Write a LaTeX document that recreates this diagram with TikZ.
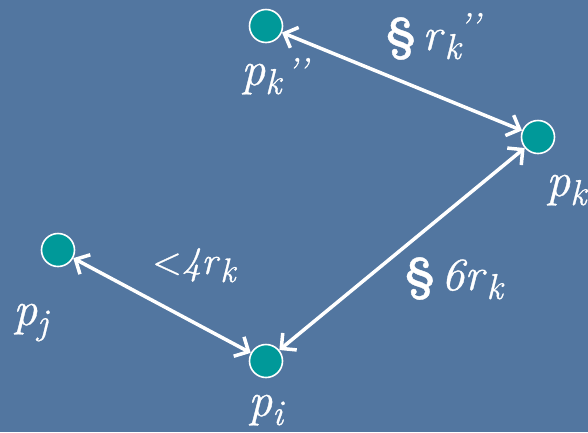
\documentclass[tikz,border=0pt]{standalone}
\usepackage{fontspec}
\setmainfont{Latin Modern Roman}[FakeBold=0.8]
\usetikzlibrary{arrows.meta}
\definecolor{slideblue}{RGB}{82,118,160}
\definecolor{dotteal}{RGB}{0,153,153}
\newcommand\psize{\fontsize{48}{52}\selectfont}
\newcommand\ssize{\fontsize{36}{40}\selectfont}
% italic p with a lowered italic index
\newcommand\plbl[1]{\psize\textit{p}\raisebox{-9pt}{\ssize\textit{#1}}}

\begin{document}
\begin{tikzpicture}[x=1pt,y=-1pt,
        dot/.style={circle,fill=dotteal,draw=white,line width=1.6pt,minimum size=33pt,inner sep=0pt},
        txt/.style={anchor=base west,inner sep=0pt,text=white},
        link/.style={white,line width=3.5pt,
          {Straight Barb[length=11pt,width=22pt]}-{Straight Barb[length=11pt,width=22pt]}}]
  \useasboundingbox (0,0) rectangle (588,432);
  \clip (0,0) rectangle (588,432);
  \fill[slideblue] (0,0) rectangle (588,432);
  % points
  \node[dot] (pkk) at (266,26) {};
  \node[dot] (pk) at (538,137) {};
  \node[dot] (pj) at (58,250) {};
  \node[dot] (pi) at (266,361) {};
  % names
  \node[txt] (lkk) at (241,85) {\plbl{k}\hspace{3pt}\raisebox{2pt}{\ssize\textit{’’}}};
  \node[txt] (lk) at (546,196) {\plbl{k}};
  \node[txt] (lj) at (13,325) {\plbl{j}};
  \node[txt] (li) at (248,416) {\plbl{i}};
  % distances
  \draw[link] (pkk)--(pk);
  \draw[link] (pk)--(pi);
  \draw[link] (pj)--(pi);
  \node[txt] (dkk) at (385,50) {\fontsize{46}{50}\selectfont\textbf{§}\hspace{6pt}%
    \textit{r}\raisebox{-9pt}{\ssize\textit{k}}\hspace{-4pt}\raisebox{12pt}{\ssize\textit{’’}}};
  \node[txt] (dj) at (152,274) {\fontsize{39}{42}\selectfont<\textit{4r}\raisebox{-8pt}{\fontsize{34}{38}\selectfont\textit{k}}};
  \node[txt] (dk) at (404,290) {\fontsize{46}{50}\selectfont\textbf{§}\hspace{6pt}%
    \textit{6r}\raisebox{-9pt}{\ssize\textit{k}}};
\end{tikzpicture}
\end{document}
